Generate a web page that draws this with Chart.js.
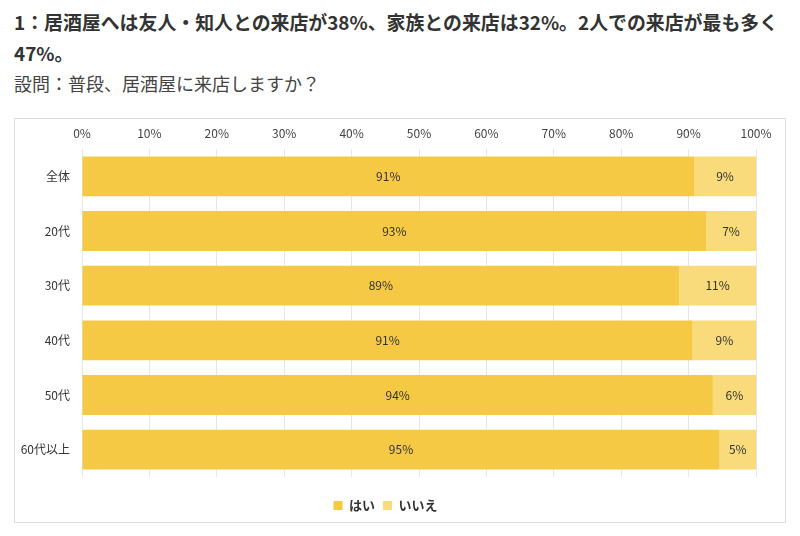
<!DOCTYPE html>
<html lang="ja">
<head>
<meta charset="utf-8">
<script src="https://cdn.jsdelivr.net/npm/chart.js@4"></script>
<style>
  body { margin: 0; background: #fff; font-family: "Noto Sans CJK JP", sans-serif; color: #333; }
  .title { position: absolute; left: 14px; top: 6px; font-size: 18.9px; font-weight: bold; line-height: 31px; white-space: nowrap; color: #333; }
  .sub { position: absolute; left: 14px; top: 70px; font-size: 18px; color: #444; white-space: nowrap; }
  .box { position: absolute; left: 14px; top: 118px; width: 770px; height: 403px; border: 1px solid #ddd; }
</style>
</head>
<body>
<div class="title">1：居酒屋へは友人・知人との来店が38%、家族との来店は32%。2人での来店が最も多く<br>47%。</div>
<div class="sub">設問：普段、居酒屋に来店しますか？</div>
<div class="box"><canvas id="chart" width="770" height="403"></canvas></div>
<script>
const categories = ['全体', '20代', '30代', '40代', '50代', '60代以上'];
const seriesNames = ['はい', 'いいえ'];
const yesValues = [90.8, 92.6, 88.6, 90.6, 93.6, 94.6];
const noValues = [9.2, 7.4, 11.4, 9.4, 6.4, 5.4];
const xTicks = [0, 10, 20, 30, 40, 50, 60, 70, 80, 90, 100];

const yesColor = '#F6C944';
const noColor = '#F9DB7B';
const jpFont = '"Noto Sans CJK JP", sans-serif';

// draw rounded % labels in the middle of each bar segment
const barLabels = {
    id: 'barLabels',
    afterDatasetsDraw(chart) {
        const ctx = chart.ctx;
        ctx.save();
        ctx.font = '12px ' + jpFont;
        ctx.fillStyle = '#333';
        ctx.textAlign = 'center';
        ctx.textBaseline = 'middle';
        chart.data.datasets.forEach((ds, i) => {
            chart.getDatasetMeta(i).data.forEach((bar, j) => {
                const x = (bar.x + bar.base) / 2;
                ctx.fillText(Math.round(ds.data[j]) + '%', x, bar.y);
            });
        });
        ctx.restore();
    }
};

new Chart(document.getElementById('chart'), {
    type: 'bar',
    data: {
        labels: categories,
        datasets: [{
            label: seriesNames[0],
            data: yesValues,
            backgroundColor: yesColor,
            barPercentage: 0.73,
            categoryPercentage: 1
        }, {
            label: seriesNames[1],
            data: noValues,
            backgroundColor: noColor,
            barPercentage: 0.73,
            categoryPercentage: 1
        }]
    },
    options: {
        indexAxis: 'y',
        responsive: false,
        animation: false,
        layout: { padding: { left: 0, right: 29, top: 0, bottom: 0 } },
        plugins: {
            tooltip: { enabled: false },
            legend: {
                position: 'bottom',
                labels: {
                    boxWidth: 9,
                    boxHeight: 9,
                    padding: 8,
                    color: '#333',
                    font: { family: jpFont, size: 13, weight: 'bold' }
                }
            }
        },
        scales: {
            x: {
                position: 'top',
                stacked: true,
                min: 0,
                max: 100,
                afterBuildTicks: s => { s.ticks = xTicks.map(v => ({ value: v })); },
                afterFit: s => { s.height = 30; },
                border: { display: false },
                grid: { color: '#e6e6e6', drawTicks: false },
                ticks: {
                    padding: 8,
                    color: '#444',
                    font: { family: jpFont, size: 12 },
                    callback: v => v + '%'
                }
            },
            // empty spacer between the plot and the legend
            gap: {
                type: 'linear',
                axis: 'x',
                position: 'bottom',
                afterFit: s => { s.height = 14; },
                border: { display: false },
                grid: { display: false },
                ticks: { display: false }
            },
            y: {
                stacked: true,
                afterFit: s => { s.width = 67; },
                border: { display: false },
                grid: { display: false, drawTicks: false },
                ticks: {
                    padding: 12,
                    color: '#333',
                    font: { family: jpFont, size: 12 }
                }
            }
        }
    },
    plugins: [barLabels]
});
</script>
</body>
</html>
